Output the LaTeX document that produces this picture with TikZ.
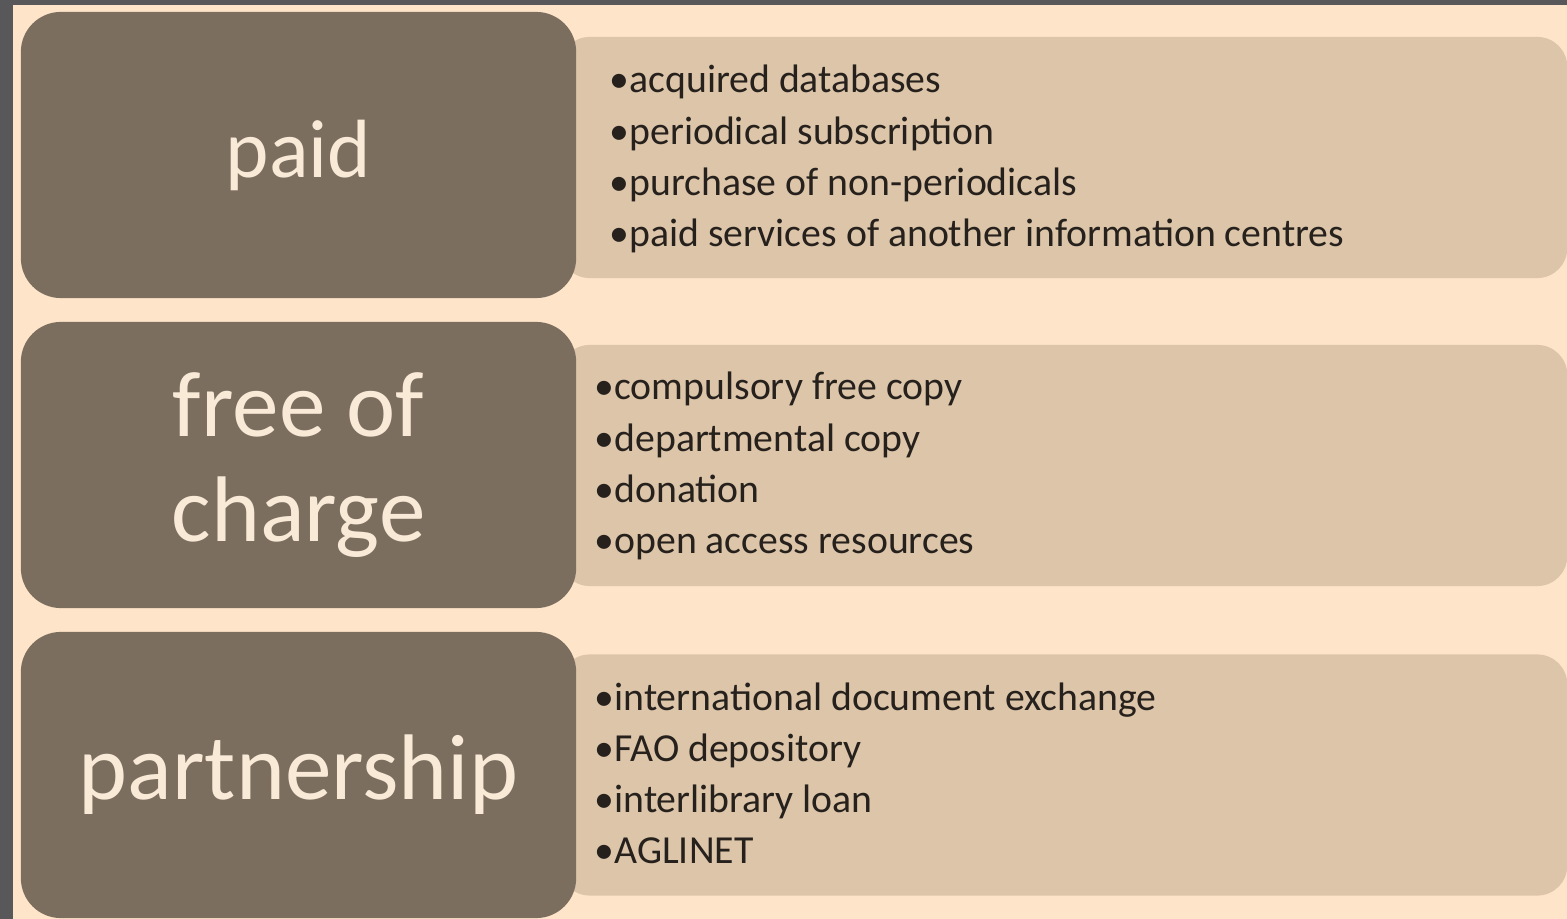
\documentclass[tikz,border=0pt]{standalone}
\usepackage{fontspec}
\setmainfont{Carlito}
\definecolor{framegray}{RGB}{88,88,90}
\definecolor{peach}{RGB}{254,229,201}
\definecolor{taupe}{RGB}{123,110,95}
\definecolor{sand}{RGB}{220,197,169}
\definecolor{cream}{RGB}{248,234,214}
\definecolor{ink}{RGB}{38,33,28}

\tikzset{
  headbox/.style={fill=taupe, rounded corners=0.4cm, minimum width=5.55cm,
    minimum height=2.86cm, text=cream, font=\fontsize{26.5}{30}\selectfont},
  listbox/.style={fill=sand, rounded corners=0.3cm, minimum width=10.07cm,
    minimum height=2.41cm},
  item/.style={anchor=base west, inner sep=0pt, text=ink,
    font=\fontsize{11.3}{13}\selectfont}
}

\begin{document}
\begin{tikzpicture}[x=0.01cm,y=-0.01cm]
% dark frame and page
\fill[framegray] (0,0) rectangle (1567,919);
\fill[peach] (13,5) rectangle (1567,919);
\useasboundingbox (0,0) rectangle (1567,919);

% panels on the right, the heads overlap them
\node[listbox] (paidlist) at (1063.5,157.5) {};
\node[listbox] (freelist) at (1063.5,465.5) {};
\node[listbox] (partnerlist) at (1063.5,775) {};

% heads
\node[headbox, font=\fontsize{23.5}{28}\selectfont] (paid) at (298.5,155) {paid};
\node[headbox, align=center] (free) at (298.5,465) {free of\\charge};
\node[headbox] (partner) at (298.5,775) {partnership};

% items
\foreach \txt [count=\i from 0] in {acquired databases, periodical subscription,
    purchase of non-periodicals, paid services of another information centres}
  \node[item] (paiditem\i) at (609,{93+51.3*\i}) {•\txt};
\foreach \txt [count=\i from 0] in {compulsory free copy, departmental copy,
    donation, open access resources}
  \node[item] (freeitem\i) at (594,{400+51.3*\i}) {•\txt};
\foreach \txt [count=\i from 0] in {international document exchange, FAO depository,
    interlibrary loan, AGLINET}
  \node[item] (partneritem\i) at (594,{710+51.3*\i}) {•\txt};
\end{tikzpicture}
\end{document}
